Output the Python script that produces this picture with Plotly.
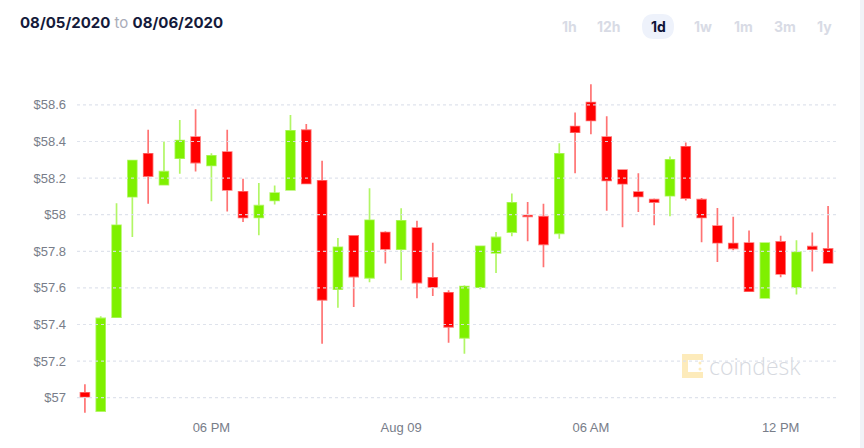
import pandas as pd
import plotly.graph_objects as go

# ---------------- data ----------------
times = pd.date_range("2020-08-08 14:00", periods=48, freq="30min")

opens = [57.027, 56.927, 57.440, 58.098, 58.333, 58.164, 58.309, 58.424, 58.269, 58.342,
         58.125, 57.985, 58.078, 58.135, 58.462, 58.185, 57.593, 57.884, 57.655, 57.902,
         57.811, 57.927, 57.655, 57.573, 57.327, 57.604, 57.791, 57.905, 57.995, 57.989,
         57.898, 58.482, 58.613, 58.424, 58.244, 58.124, 58.082, 58.104, 58.371, 58.082,
         57.938, 57.842, 57.845, 57.545, 57.851, 57.604, 57.825, 57.813]
highs = [57.073, 57.445, 58.062, 58.300, 58.464, 58.400, 58.518, 58.576, 58.336, 58.464,
         58.196, 58.173, 58.160, 58.545, 58.495, 58.295, 57.873, 57.884, 58.145, 57.909,
         58.035, 57.967, 57.847, 57.587, 57.615, 57.827, 57.905, 58.116, 58.069, 58.060,
         58.391, 58.558, 58.713, 58.538, 58.244, 58.227, 58.089, 58.318, 58.395, 58.091,
         58.036, 57.989, 57.913, 57.845, 57.885, 57.860, 57.902, 58.047]
lows = [56.918, 56.924, 57.436, 57.878, 58.060, 58.160, 58.224, 58.236, 58.073, 58.018,
        57.960, 57.887, 58.055, 58.135, 58.171, 57.295, 57.491, 57.496, 57.631, 57.733,
        57.642, 57.544, 57.555, 57.300, 57.240, 57.593, 57.682, 57.882, 57.855, 57.713,
        57.869, 58.227, 58.440, 58.022, 57.931, 58.015, 57.942, 57.991, 58.078, 57.849,
        57.742, 57.805, 57.582, 57.545, 57.658, 57.564, 57.690, 57.733]
closes = [57.005, 57.433, 57.942, 58.296, 58.211, 58.235, 58.405, 58.285, 58.322, 58.135,
          57.985, 58.049, 58.118, 58.458, 58.171, 57.535, 57.822, 57.662, 57.969, 57.813,
          57.967, 57.629, 57.605, 57.387, 57.607, 57.827, 57.876, 58.065, 57.991, 57.838,
          58.333, 58.451, 58.515, 58.187, 58.169, 58.100, 58.069, 58.300, 58.091, 57.985,
          57.847, 57.816, 57.582, 57.845, 57.676, 57.795, 57.811, 57.736]

y_tickvals = [57.0, 57.2, 57.4, 57.6, 57.8, 58.0, 58.2, 58.4, 58.6]
y_ticktext = ["$57", "$57.2", "$57.4", "$57.6", "$57.8", "$58", "$58.2", "$58.4", "$58.6"]
x_tickvals = ["2020-08-08 18:00", "2020-08-09 00:00", "2020-08-09 06:00", "2020-08-09 12:00"]
x_ticktext = ["06 PM", "Aug 09", "06 AM", "12 PM"]
range_buttons = ["1h", "12h", "1d", "1w", "1m", "3m", "1y"]
active_button = "1d"

# ---------------- layout geometry (pixels) ----------------
W, H = 864, 448
L, R, T, B = 77, 836, 80, 418

def px(x):
    return (x - L) / (R - L)

def py(y):
    return (B - y) / (B - T)

fig = go.Figure()
fig.add_trace(go.Candlestick(
    x=times, open=opens, high=highs, low=lows, close=closes,
    increasing=dict(fillcolor="#7ff000", line=dict(color="rgba(127,240,0,0.6)", width=1.7)),
    decreasing=dict(fillcolor="#ff0000", line=dict(color="rgba(255,0,0,0.55)", width=1.7)),
    hoverinfo="skip", showlegend=False,
))

tick_font = dict(family="Liberation Sans, Arial, sans-serif", size=13, color="#787d89")

fig.update_layout(
    width=W, height=H,
    margin=dict(l=L, r=W - R, t=T, b=H - B, autoexpand=False),
    paper_bgcolor="white", plot_bgcolor="white",
    boxgap=0.2,
    xaxis=dict(
        range=[pd.Timestamp("2020-08-08 13:45"), pd.Timestamp("2020-08-09 13:45")],
        rangeslider=dict(visible=False),
        tickvals=x_tickvals, ticktext=x_ticktext,
        showgrid=False, zeroline=False, showline=False, ticks="",
        tickfont=tick_font,
    ),
    yaxis=dict(
        range=[56.889, 58.736],
        tickvals=y_tickvals, ticktext=y_ticktext,
        showgrid=False,
        zeroline=False, showline=False, ticks="",
        ticklabelstandoff=10,
        tickfont=tick_font,
    ),
)

annotations = []
# date range title
annotations.append(dict(
    xref="paper", yref="paper", x=px(18), y=py(23), xanchor="left", yanchor="middle",
    text="<b>08/05/2020</b> <span style='color:#a9acb9;font-weight:400'>to</span> <b>08/06/2020</b>",
    showarrow=False,
    font=dict(family="Inter, sans-serif", size=15, color="#141a3a"),
))
# range buttons
btn_x = [569, 609, 658, 703, 743, 785, 824]
for lbl, bx in zip(range_buttons, btn_x):
    annotations.append(dict(
        xref="paper", yref="paper", x=px(bx), y=py(27), xanchor="center", yanchor="middle",
        text="<b>%s</b>" % lbl, showarrow=False,
        font=dict(family="Inter, sans-serif", size=14,
                  color="#0f1438" if lbl == active_button else "#d8dbe5"),
    ))
# watermark text
annotations.append(dict(
    xref="paper", yref="paper", x=px(707), y=py(366), xanchor="left", yanchor="middle",
    text="coindesk", showarrow=False,
    font=dict(family="Open Sans, sans-serif", size=23, color="#d6d9e0", weight=300),
))
fig.update_layout(annotations=annotations)

shapes = []
# dotted grid drawn over the candles
for v in y_tickvals:
    shapes.append(dict(type="line", xref="paper", yref="y", x0=0, x1=1, y0=v, y1=v,
                       line=dict(color="rgba(220,224,234,0.9)", width=1.2, dash="dot"),
                       layer="above"))
# pill behind active button
x0, x1, y0, y1 = 642, 674, 14, 39
r = 12
def P(x, y):
    return "%f,%f" % (px(x), py(y))
path = ("M " + P(x0 + r, y0) + " L " + P(x1 - r, y0) +
        " Q " + P(x1, y0) + " " + P(x1, (y0 + y1) / 2) +
        " Q " + P(x1, y1) + " " + P(x1 - r, y1) +
        " L " + P(x0 + r, y1) +
        " Q " + P(x0, y1) + " " + P(x0, (y0 + y1) / 2) +
        " Q " + P(x0, y0) + " " + P(x0 + r, y0) + " Z")
shapes.append(dict(type="path", xref="paper", yref="paper", path=path,
                   fillcolor="#eef2fb", line=dict(width=0), layer="below"))
# right edge strip
shapes.append(dict(type="rect", xref="paper", yref="paper",
                   x0=px(860), x1=px(864), y0=py(0), y1=py(448),
                   fillcolor="#f1f3f7", line=dict(width=0)))
# watermark icon
icon = "M " + P(703, 357) + " L " + P(685, 357) + " L " + P(685, 375) + " L " + P(703, 375)
shapes.append(dict(type="path", xref="paper", yref="paper", path=icon,
                   line=dict(color="#fdebbb", width=6), layer="below"))
for (cx, cy) in [(700, 363), (700, 369)]:
    shapes.append(dict(type="circle", xref="paper", yref="paper",
                       x0=px(cx - 1.5), x1=px(cx + 1.5), y0=py(cy - 1.5), y1=py(cy + 1.5),
                       fillcolor="#fdebbb", line=dict(width=0), layer="below"))
fig.update_layout(shapes=shapes)

fig.write_html("out.html", config={"displayModeBar": False})
